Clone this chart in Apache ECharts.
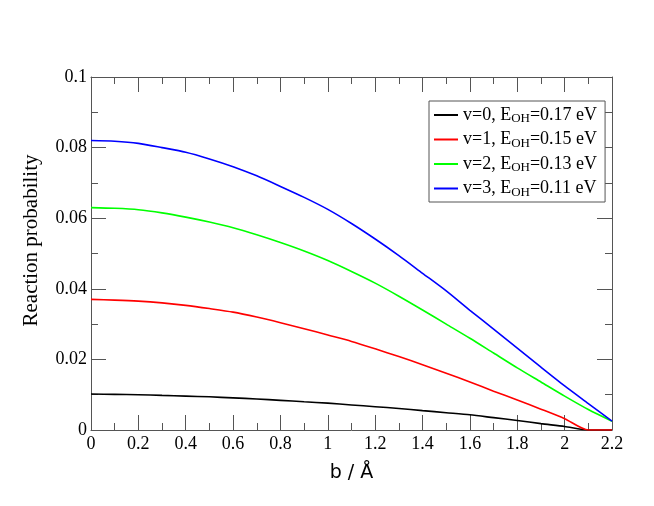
<!DOCTYPE html>
<html>
<head>
<meta charset="utf-8">
<script src="https://cdn.jsdelivr.net/npm/echarts@6/dist/echarts.min.js"></script>
<style>
  html, body { margin: 0; padding: 0; background: #fff; }
  #chart { width: 654px; height: 506px; }
</style>
</head>
<body>
<div id="chart"></div>
<script>
// impact parameter b (Å)
var bValues = [0, 0.1, 0.2, 0.3, 0.4, 0.5, 0.6, 0.7, 0.8, 0.9, 1.0, 1.1,
               1.2, 1.3, 1.4, 1.5, 1.6, 1.7, 1.8, 1.9, 2.0, 2.1, 2.2];

// reaction probability
var probV0 = [0.0102, 0.0101, 0.0100, 0.0098, 0.0096, 0.0094, 0.0091, 0.0088, 0.0084, 0.0080, 0.0076, 0.0071,
              0.0066, 0.0061, 0.0055, 0.0049, 0.0043, 0.0035, 0.0027, 0.0018, 0.0010, 0.0000, 0.0000];
var probV1 = [0.0370, 0.0368, 0.0365, 0.0360, 0.0353, 0.0344, 0.0334, 0.0320, 0.0304, 0.0287, 0.0269, 0.0251,
              0.0230, 0.0208, 0.0185, 0.0161, 0.0136, 0.0110, 0.0085, 0.0059, 0.0032, 0.0000, 0.0000];
var probV2 = [0.0630, 0.0628, 0.0624, 0.0615, 0.0603, 0.0589, 0.0573, 0.0553, 0.0531, 0.0507, 0.0480, 0.0449,
              0.0416, 0.0379, 0.0340, 0.0300, 0.0260, 0.0218, 0.0176, 0.0136, 0.0096, 0.0058, 0.0025];
var probV3 = [0.0820, 0.0818, 0.0812, 0.0800, 0.0787, 0.0768, 0.0746, 0.0720, 0.0690, 0.0659, 0.0625, 0.0585,
              0.0541, 0.0494, 0.0444, 0.0394, 0.0339, 0.0286, 0.0232, 0.0178, 0.0125, 0.0075, 0.0025];

var vLabels = ['v=0', 'v=1', 'v=2', 'v=3'];
var energies = ['0.17', '0.15', '0.13', '0.11'];
var colors = ['#000000', '#ff0000', '#00ff00', '#0000ff'];

var chart = echarts.init(document.getElementById('chart'));

function pairs(vals) {
    return bValues.map(function (b, i) { return [b, vals[i]]; });
}

// xmgrace style frame: ticks inside on all four sides
function frameAxis(extra) {
    var base = {
        type: 'value',
        axisLine: { show: true, onZero: false, lineStyle: { color: '#555', width: 1 } },
        axisTick: { show: true, inside: true, length: 15, lineStyle: { color: '#555' } },
        minorTick: { show: true, splitNumber: 2, length: 7, lineStyle: { color: '#555' } },
        splitLine: { show: false },
        minorSplitLine: { show: false }
    };
    return Object.assign(base, extra);
}

var font = 'Liberation Serif';

var option = {
    backgroundColor: '#fff',
    animation: false,
    grid: { left: 91, top: 77, width: 521, height: 353, containLabel: false },
    legend: {
        left: 429,
        top: 101,
        orient: 'vertical',
        backgroundColor: '#fff',
        borderColor: '#555',
        borderWidth: 1,
        borderRadius: 0,
        padding: [5, 8, 3, 5],
        itemGap: 5,
        itemWidth: 24,
        itemHeight: 2,
        icon: 'rect',
        data: vLabels,
        formatter: function (name) {
            var i = vLabels.indexOf(name);
            return name + ', E{sub|OH}=' + energies[i] + ' eV';
        },
        textStyle: {
            fontFamily: font,
            fontSize: 18,
            color: '#000',
            rich: {
                sub: { fontFamily: font, fontSize: 13, verticalAlign: 'bottom', padding: [8, 0, 0, 0], color: '#000' }
            }
        }
    },
    xAxis: [
        frameAxis({
            min: 0, max: 2.2, interval: 0.2,
            name: 'b / Å',
            nameLocation: 'middle',
            nameGap: 34,
            nameTextStyle: { fontFamily: 'DejaVu Sans', fontSize: 19, color: '#000' },
            axisLabel: { fontFamily: font, fontSize: 18, color: '#000', margin: 5 }
        }),
        frameAxis({
            position: 'top',
            min: 0, max: 2.2, interval: 0.2,
            axisLabel: { show: false }
        })
    ],
    yAxis: [
        frameAxis({
            min: 0, max: 0.1, interval: 0.02,
            name: 'Reaction probability',
            nameLocation: 'middle',
            nameGap: 49,
            nameTextStyle: { fontFamily: font, fontSize: 21, color: '#000', padding: [0, 0, 0, 26] },
            axisLabel: { fontFamily: font, fontSize: 18, color: '#000', margin: 4 }
        }),
        frameAxis({
            position: 'right',
            min: 0, max: 0.1, interval: 0.02,
            axisLabel: { show: false }
        })
    ],
    series: [probV0, probV1, probV2, probV3].map(function (vals, i) {
        return {
            name: vLabels[i],
            type: 'line',
            data: pairs(vals),
            smooth: 0.25,
            symbol: 'none',
            color: colors[i],
            lineStyle: { color: colors[i], width: 1.6 },
            z: 2 + i
        };
    })
};

chart.setOption(option);
</script>
</body>
</html>
